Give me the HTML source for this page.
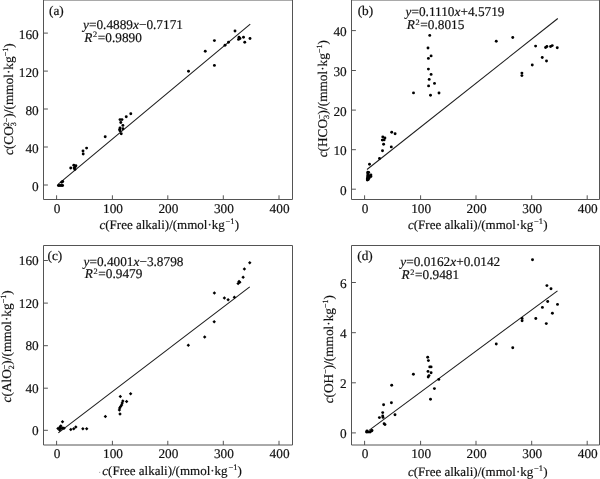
<!DOCTYPE html>
<html><head><meta charset="utf-8"><style>
html,body{margin:0;padding:0;background:#fff;}
svg{display:block;will-change:transform;text-rendering:geometricPrecision;}
text{font-family:"Liberation Serif", serif;font-size:13.3px;fill:#111;stroke:#111;stroke-width:0.18px;}
</style></head><body>
<svg width="600" height="479" viewBox="0 0 600 479">
<rect width="600" height="479" fill="#fff"/>
<path d="M43.5 0.0H292.5V199.5H43.5Z" fill="none" stroke="#545454" stroke-width="1"/>
<path d="M56.6 199.5V195.3" stroke="#545454" stroke-width="1"/>
<text x="57.2" y="212.7" text-anchor="middle">0</text>
<path d="M112.4 199.5V195.3" stroke="#545454" stroke-width="1"/>
<text x="113.0" y="212.7" text-anchor="middle">100</text>
<path d="M167.8 199.5V195.3" stroke="#545454" stroke-width="1"/>
<text x="168.4" y="212.7" text-anchor="middle">200</text>
<path d="M223.3 199.5V195.3" stroke="#545454" stroke-width="1"/>
<text x="223.9" y="212.7" text-anchor="middle">300</text>
<path d="M279.0 199.5V195.3" stroke="#545454" stroke-width="1"/>
<text x="279.6" y="212.7" text-anchor="middle">400</text>
<path d="M43.5 185.0H47.9" stroke="#545454" stroke-width="1"/>
<text x="38.7" y="190.6" text-anchor="end">0</text>
<path d="M43.5 147.0H47.9" stroke="#545454" stroke-width="1"/>
<text x="38.7" y="152.6" text-anchor="end">40</text>
<path d="M43.5 109.0H47.9" stroke="#545454" stroke-width="1"/>
<text x="38.7" y="114.6" text-anchor="end">80</text>
<path d="M43.5 71.1H47.9" stroke="#545454" stroke-width="1"/>
<text x="38.7" y="76.69999999999999" text-anchor="end">120</text>
<path d="M43.5 33.1H47.9" stroke="#545454" stroke-width="1"/>
<text x="38.7" y="38.7" text-anchor="end">160</text>
<path d="M58.25 184.1L250.25 24.1" stroke="#1c1c1c" stroke-width="1.05"/>
<g fill="#000"><circle cx="58.4" cy="185.5" r="1.45"/><circle cx="59.8" cy="185.5" r="1.45"/><circle cx="61.2" cy="185.5" r="1.45"/><circle cx="62.6" cy="185.5" r="1.45"/><circle cx="62.7" cy="181.5" r="1.45"/><circle cx="61.7" cy="182.2" r="1.45"/><circle cx="70.7" cy="168" r="1.45"/><circle cx="73.8" cy="165.2" r="1.45"/><circle cx="75.9" cy="165.7" r="1.45"/><circle cx="74.1" cy="168" r="1.45"/><circle cx="75.1" cy="167" r="1.45"/><circle cx="74.9" cy="169.4" r="1.45"/><circle cx="83.0" cy="151.0" r="1.45"/><circle cx="83.2" cy="154.0" r="1.45"/><circle cx="86.6" cy="148.1" r="1.45"/><circle cx="105.2" cy="136.7" r="1.45"/><circle cx="120" cy="119.6" r="1.45"/><circle cx="122" cy="119.6" r="1.45"/><circle cx="120.8" cy="122.5" r="1.45"/><circle cx="122.9" cy="125.4" r="1.45"/><circle cx="120" cy="127.9" r="1.45"/><circle cx="119.6" cy="129.6" r="1.45"/><circle cx="122.9" cy="128.75" r="1.45"/><circle cx="120" cy="130.8" r="1.45"/><circle cx="121.25" cy="133.75" r="1.45"/><circle cx="126.25" cy="116.7" r="1.45"/><circle cx="130.8" cy="113.75" r="1.45"/><circle cx="188.5" cy="71.2" r="1.45"/><circle cx="205.25" cy="51.25" r="1.45"/><circle cx="214.4" cy="40.6" r="1.45"/><circle cx="214.4" cy="65.4" r="1.45"/><circle cx="225" cy="45.25" r="1.45"/><circle cx="228.5" cy="42.25" r="1.45"/><circle cx="235" cy="31" r="1.45"/><circle cx="239" cy="37.25" r="1.45"/><circle cx="238.5" cy="39.4" r="1.45"/><circle cx="240" cy="38.5" r="1.45"/><circle cx="243.5" cy="37.25" r="1.45"/><circle cx="244.75" cy="42.25" r="1.45"/><circle cx="250" cy="38.5" r="1.45"/></g>
<text x="49.0" y="14.7" style="stroke-width:0.2px">(a)</text>
<text x="83.0" y="28.9"><tspan font-style="italic">y</tspan>=0.4889<tspan font-style="italic">x</tspan>−0.7171</text>
<text x="84.3" y="41.6"><tspan font-style="italic">R</tspan><tspan font-size="8.3" dx="0.6" dy="-4.3">2</tspan><tspan dx="0.6" dy="4.3">=0.9890</tspan></text>
<text x="99.5" y="228.8" style="font-size:13.0px"><tspan font-style="italic">c</tspan>(Free alkali)/(mmol·kg<tspan font-size="8.5" dx="0.8" dy="-5">−1</tspan><tspan dx="0.1" dy="5">)</tspan></text>
<text transform="translate(13.2 99.2) rotate(-90)" text-anchor="middle"><tspan font-style="italic">c</tspan>(CO<tspan font-size="8" dy="2.5">3</tspan><tspan font-size="8" dx="-4" dy="-7">2−</tspan><tspan dy="4.5">)/(mmol·kg</tspan><tspan font-size="8" dy="-5">−1</tspan><tspan dy="5">)</tspan></text>
<path d="M351.5 0.0H599.5V199.5H351.5Z" fill="none" stroke="#545454" stroke-width="1"/>
<path d="M364.6 199.5V195.3" stroke="#545454" stroke-width="1"/>
<text x="365.20000000000005" y="212.7" text-anchor="middle">0</text>
<path d="M420.6 199.5V195.3" stroke="#545454" stroke-width="1"/>
<text x="421.20000000000005" y="212.7" text-anchor="middle">100</text>
<path d="M476.0 199.5V195.3" stroke="#545454" stroke-width="1"/>
<text x="476.6" y="212.7" text-anchor="middle">200</text>
<path d="M531.7 199.5V195.3" stroke="#545454" stroke-width="1"/>
<text x="532.3000000000001" y="212.7" text-anchor="middle">300</text>
<path d="M587.2 199.5V195.3" stroke="#545454" stroke-width="1"/>
<text x="587.8000000000001" y="212.7" text-anchor="middle">400</text>
<path d="M351.5 189.2H355.9" stroke="#545454" stroke-width="1"/>
<text x="346.7" y="194.79999999999998" text-anchor="end">0</text>
<path d="M351.5 149.7H355.9" stroke="#545454" stroke-width="1"/>
<text x="346.7" y="155.29999999999998" text-anchor="end">10</text>
<path d="M351.5 110.1H355.9" stroke="#545454" stroke-width="1"/>
<text x="346.7" y="115.69999999999999" text-anchor="end">20</text>
<path d="M351.5 70.5H355.9" stroke="#545454" stroke-width="1"/>
<text x="346.7" y="76.1" text-anchor="end">30</text>
<path d="M351.5 30.6H355.9" stroke="#545454" stroke-width="1"/>
<text x="346.7" y="36.2" text-anchor="end">40</text>
<path d="M367.0 169.5L557.8 18.5" stroke="#1c1c1c" stroke-width="1.05"/>
<g fill="#000"><circle cx="367.8" cy="172.2" r="1.45"/><circle cx="367.8" cy="173.8" r="1.45"/><circle cx="367.8" cy="175.4" r="1.45"/><circle cx="367.6" cy="177" r="1.45"/><circle cx="367.4" cy="178.5" r="1.45"/><circle cx="367.3" cy="180" r="1.45"/><circle cx="370.9" cy="174.9" r="1.45"/><circle cx="370.9" cy="176.6" r="1.45"/><circle cx="369.4" cy="175.8" r="1.45"/><circle cx="368.7" cy="172.4" r="1.45"/><circle cx="368.7" cy="176.2" r="1.45"/><circle cx="368.3" cy="179.6" r="1.45"/><circle cx="369.2" cy="178" r="1.45"/><circle cx="369.5" cy="164.2" r="1.45"/><circle cx="379.5" cy="158.5" r="1.45"/><circle cx="382.5" cy="150.8" r="1.45"/><circle cx="383.6" cy="144.3" r="1.45"/><circle cx="391.3" cy="146.9" r="1.45"/><circle cx="382.8" cy="137" r="1.45"/><circle cx="384.9" cy="138" r="1.45"/><circle cx="382.3" cy="140.1" r="1.45"/><circle cx="384.1" cy="139.9" r="1.45"/><circle cx="391.7" cy="132.3" r="1.45"/><circle cx="395.1" cy="133.8" r="1.45"/><circle cx="413.5" cy="92.9" r="1.45"/><circle cx="430.5" cy="95.3" r="1.45"/><circle cx="439" cy="93" r="1.45"/><circle cx="429.75" cy="35.4" r="1.45"/><circle cx="428" cy="48" r="1.45"/><circle cx="431.1" cy="55.9" r="1.45"/><circle cx="428.4" cy="58.4" r="1.45"/><circle cx="428.4" cy="69.1" r="1.45"/><circle cx="431.1" cy="74.4" r="1.45"/><circle cx="429.2" cy="79.4" r="1.45"/><circle cx="434.5" cy="83.4" r="1.45"/><circle cx="428.6" cy="85.9" r="1.45"/><circle cx="496.25" cy="41.25" r="1.45"/><circle cx="512.75" cy="37.5" r="1.45"/><circle cx="535.6" cy="46.1" r="1.45"/><circle cx="545.6" cy="47.5" r="1.45"/><circle cx="546.9" cy="46.5" r="1.45"/><circle cx="550.6" cy="46.5" r="1.45"/><circle cx="552.25" cy="45.6" r="1.45"/><circle cx="557.25" cy="47.75" r="1.45"/><circle cx="542.25" cy="57.5" r="1.45"/><circle cx="546.5" cy="61" r="1.45"/><circle cx="532.25" cy="65" r="1.45"/><circle cx="521.9" cy="73.1" r="1.45"/><circle cx="521.9" cy="75.6" r="1.45"/></g>
<text x="357.7" y="14.7" style="stroke-width:0.2px">(b)</text>
<text x="405.5" y="16.0"><tspan font-style="italic">y</tspan>=0.1110<tspan font-style="italic">x</tspan>+4.5719</text>
<text x="406.8" y="28.8"><tspan font-style="italic">R</tspan><tspan font-size="8.3" dx="0.6" dy="-4.3">2</tspan><tspan dx="0.6" dy="4.3">=0.8015</tspan></text>
<text x="408.0" y="229.0" style="font-size:13.0px"><tspan font-style="italic">c</tspan>(Free alkali)/(mmol·kg<tspan font-size="8.5" dx="0.8" dy="-5">−1</tspan><tspan dx="0.1" dy="5">)</tspan></text>
<text transform="translate(326.5 98.75) rotate(-90)" text-anchor="middle"><tspan font-style="italic">c</tspan>(HCO<tspan font-size="8" dy="2.5">3</tspan><tspan font-size="8" dx="-4" dy="-7">−</tspan><tspan dy="4.5">)/(mmol·kg</tspan><tspan font-size="8" dy="-5">−1</tspan><tspan dy="5">)</tspan></text>
<path d="M43.5 245.5H292.5V445.0H43.5Z" fill="none" stroke="#545454" stroke-width="1"/>
<path d="M56.6 445.0V440.8" stroke="#545454" stroke-width="1"/>
<text x="57.2" y="458.2" text-anchor="middle">0</text>
<path d="M112.4 445.0V440.8" stroke="#545454" stroke-width="1"/>
<text x="113.0" y="458.2" text-anchor="middle">100</text>
<path d="M167.8 445.0V440.8" stroke="#545454" stroke-width="1"/>
<text x="168.4" y="458.2" text-anchor="middle">200</text>
<path d="M223.3 445.0V440.8" stroke="#545454" stroke-width="1"/>
<text x="223.9" y="458.2" text-anchor="middle">300</text>
<path d="M279.0 445.0V440.8" stroke="#545454" stroke-width="1"/>
<text x="279.6" y="458.2" text-anchor="middle">400</text>
<path d="M43.5 430.3H47.9" stroke="#545454" stroke-width="1"/>
<text x="38.7" y="434.7" text-anchor="end">0</text>
<path d="M43.5 388.2H47.9" stroke="#545454" stroke-width="1"/>
<text x="38.7" y="392.59999999999997" text-anchor="end">40</text>
<path d="M43.5 345.7H47.9" stroke="#545454" stroke-width="1"/>
<text x="38.7" y="350.09999999999997" text-anchor="end">80</text>
<path d="M43.5 303.1H47.9" stroke="#545454" stroke-width="1"/>
<text x="38.7" y="307.5" text-anchor="end">120</text>
<path d="M43.5 260.5H47.9" stroke="#545454" stroke-width="1"/>
<text x="38.7" y="264.9" text-anchor="end">160</text>
<path d="M58.3 432.8L249.75 286.8" stroke="#1c1c1c" stroke-width="1.05"/>
<g fill="#000"><path d="M58 426.85L59.75 428.6L58 430.35L56.25 428.6Z"/><path d="M59.8 425.45L61.55 427.2L59.8 428.95L58.05 427.2Z"/><path d="M60.8 424.15L62.55 425.9L60.8 427.65L59.05 425.9Z"/><path d="M61 426.65L62.75 428.4L61 430.15L59.25 428.4Z"/><path d="M62.8 426.15L64.55 427.9L62.8 429.65L61.05 427.9Z"/><path d="M64 426.55L65.75 428.3L64 430.05L62.25 428.3Z"/><path d="M59.6 428.25L61.35 430L59.6 431.75L57.85 430Z"/><path d="M62.5 420.05L64.25 421.8L62.5 423.55L60.75 421.8Z"/><path d="M70.8 427.85L72.55 429.6L70.8 431.35L69.05 429.6Z"/><path d="M73.75 427.0L75.5 428.75L73.75 430.5L72.0 428.75Z"/><path d="M75.8 425.25L77.55 427L75.8 428.75L74.05 427Z"/><path d="M82.9 427.0L84.65 428.75L82.9 430.5L81.15 428.75Z"/><path d="M86.7 427.0L88.45 428.75L86.7 430.5L84.95 428.75Z"/><path d="M105.4 414.75L107.15 416.5L105.4 418.25L103.65 416.5Z"/><path d="M120.3 394.85L122.05 396.6L120.3 398.35L118.55 396.6Z"/><path d="M130.6 392.0L132.35 393.75L130.6 395.5L128.85 393.75Z"/><path d="M126.6 399.85L128.35 401.6L126.6 403.35L124.85 401.6Z"/><path d="M122.8 399.15L124.55 400.9L122.8 402.65L121.05 400.9Z"/><path d="M122.2 401.35L123.95 403.1L122.2 404.85L120.45 403.1Z"/><path d="M121.6 403.25L123.35 405L121.6 406.75L119.85 405Z"/><path d="M120.6 404.85L122.35 406.6L120.6 408.35L118.85 406.6Z"/><path d="M119.7 406.35L121.45 408.1L119.7 409.85L117.95 408.1Z"/><path d="M119.4 408.25L121.15 410L119.4 411.75L117.65 410Z"/><path d="M120 412.25L121.75 414L120 415.75L118.25 414Z"/><path d="M188.3 343.55L190.05 345.3L188.3 347.05L186.55 345.3Z"/><path d="M204.7 335.25L206.45 337L204.7 338.75L202.95 337Z"/><path d="M214.2 319.95L215.95 321.7L214.2 323.45L212.45 321.7Z"/><path d="M214.4 291.15L216.15 292.9L214.4 294.65L212.65 292.9Z"/><path d="M224.4 296.35L226.15 298.1L224.4 299.85L222.65 298.1Z"/><path d="M228.1 298.0L229.85 299.75L228.1 301.5L226.35 299.75Z"/><path d="M234.4 295.5L236.15 297.25L234.4 299.0L232.65 297.25Z"/><path d="M239 279.75L240.75 281.5L239 283.25L237.25 281.5Z"/><path d="M239.75 280.5L241.5 282.25L239.75 284.0L238.0 282.25Z"/><path d="M238.1 281.75L239.85 283.5L238.1 285.25L236.35 283.5Z"/><path d="M243.1 275.45L244.85 277.2L243.1 278.95L241.35 277.2Z"/><path d="M244.4 267.25L246.15 269L244.4 270.75L242.65 269Z"/><path d="M249.75 260.95L251.5 262.7L249.75 264.45L248.0 262.7Z"/></g>
<text x="47.5" y="259.5" style="stroke-width:0.2px">(c)</text>
<text x="83.5" y="265.8"><tspan font-style="italic">y</tspan>=0.4001<tspan font-style="italic">x</tspan>−3.8798</text>
<text x="84.8" y="278.2"><tspan font-style="italic">R</tspan><tspan font-size="8.3" dx="0.6" dy="-4.3">2</tspan><tspan dx="0.6" dy="4.3">=0.9479</tspan></text>
<circle cx="99.7" cy="472.3" r="0.6" fill="#999"/>
<text x="102.3" y="475.0" style="font-size:13.0px"><tspan font-style="italic">c</tspan>(Free alkali)/(mmol·kg<tspan font-size="8.5" dx="0.8" dy="-5">−1</tspan><tspan dx="0.1" dy="5">)</tspan></text>
<text transform="translate(11.2 346.4) rotate(-90)" text-anchor="middle"><tspan font-style="italic">c</tspan>(AlO<tspan font-size="8" dy="2.5">2</tspan><tspan font-size="8" dx="-4" dy="-7">−</tspan><tspan dy="4.5">)/(mmol·kg</tspan><tspan font-size="8" dy="-5">−1</tspan><tspan dy="5">)</tspan></text>
<path d="M351.5 245.5H599.5V445.0H351.5Z" fill="none" stroke="#545454" stroke-width="1"/>
<path d="M364.6 445.0V440.8" stroke="#545454" stroke-width="1"/>
<text x="365.20000000000005" y="458.2" text-anchor="middle">0</text>
<path d="M420.6 445.0V440.8" stroke="#545454" stroke-width="1"/>
<text x="421.20000000000005" y="458.2" text-anchor="middle">100</text>
<path d="M476.0 445.0V440.8" stroke="#545454" stroke-width="1"/>
<text x="476.6" y="458.2" text-anchor="middle">200</text>
<path d="M531.7 445.0V440.8" stroke="#545454" stroke-width="1"/>
<text x="532.3000000000001" y="458.2" text-anchor="middle">300</text>
<path d="M587.2 445.0V440.8" stroke="#545454" stroke-width="1"/>
<text x="587.8000000000001" y="458.2" text-anchor="middle">400</text>
<path d="M351.5 432.9H355.9" stroke="#545454" stroke-width="1"/>
<text x="346.7" y="437.9" text-anchor="end">0</text>
<path d="M351.5 382.8H355.9" stroke="#545454" stroke-width="1"/>
<text x="346.7" y="387.8" text-anchor="end">2</text>
<path d="M351.5 332.7H355.9" stroke="#545454" stroke-width="1"/>
<text x="346.7" y="337.7" text-anchor="end">4</text>
<path d="M351.5 282.5H355.9" stroke="#545454" stroke-width="1"/>
<text x="346.7" y="287.5" text-anchor="end">6</text>
<path d="M369.0 430.3L557.5 290.8" stroke="#1c1c1c" stroke-width="1.05"/>
<g fill="#000"><circle cx="366.5" cy="432" r="1.45"/><circle cx="368" cy="432" r="1.45"/><circle cx="370" cy="432" r="1.45"/><circle cx="371.5" cy="431" r="1.45"/><circle cx="372" cy="430.5" r="1.45"/><circle cx="367" cy="431" r="1.45"/><circle cx="379.4" cy="417.6" r="1.45"/><circle cx="382.7" cy="412.6" r="1.45"/><circle cx="382.7" cy="416" r="1.45"/><circle cx="383" cy="417.4" r="1.45"/><circle cx="383.6" cy="404.8" r="1.45"/><circle cx="391.7" cy="385.2" r="1.45"/><circle cx="391.4" cy="402.75" r="1.45"/><circle cx="395" cy="414.7" r="1.45"/><circle cx="384.1" cy="423.8" r="1.45"/><circle cx="385" cy="424.6" r="1.45"/><circle cx="413.4" cy="374.2" r="1.45"/><circle cx="427.7" cy="357.3" r="1.45"/><circle cx="428.4" cy="360.6" r="1.45"/><circle cx="429.75" cy="366.9" r="1.45"/><circle cx="431.1" cy="366.9" r="1.45"/><circle cx="428" cy="371.4" r="1.45"/><circle cx="431.1" cy="372.75" r="1.45"/><circle cx="429" cy="375.6" r="1.45"/><circle cx="428.2" cy="377" r="1.45"/><circle cx="438.8" cy="379.4" r="1.45"/><circle cx="434.4" cy="388.6" r="1.45"/><circle cx="430.5" cy="399.3" r="1.45"/><circle cx="496.25" cy="344" r="1.45"/><circle cx="512.75" cy="347.75" r="1.45"/><circle cx="522.1" cy="318.4" r="1.45"/><circle cx="522.1" cy="320.7" r="1.45"/><circle cx="535.8" cy="318.5" r="1.45"/><circle cx="542.4" cy="307.4" r="1.45"/><circle cx="547.7" cy="301.5" r="1.45"/><circle cx="557.5" cy="304.4" r="1.45"/><circle cx="552.4" cy="313.2" r="1.45"/><circle cx="546.3" cy="323.6" r="1.45"/><circle cx="546.9" cy="285.6" r="1.45"/><circle cx="551" cy="288.75" r="1.45"/><circle cx="532.5" cy="259.75" r="1.45"/></g>
<text x="357.3" y="259.6" style="stroke-width:0.2px">(d)</text>
<text x="400.3" y="266.4"><tspan font-style="italic">y</tspan>=0.0162<tspan font-style="italic">x</tspan>+0.0142</text>
<text x="401.6" y="278.9"><tspan font-style="italic">R</tspan><tspan font-size="8.3" dx="0.6" dy="-4.3">2</tspan><tspan dx="0.6" dy="4.3">=0.9481</tspan></text>
<text x="408.0" y="475.5" style="font-size:13.0px"><tspan font-style="italic">c</tspan>(Free alkali)/(mmol·kg<tspan font-size="8.5" dx="0.8" dy="-5">−1</tspan><tspan dx="0.1" dy="5">)</tspan></text>
<text transform="translate(333.0 349.2) rotate(-90)" text-anchor="middle"><tspan font-style="italic">c</tspan>(OH<tspan font-size="8" dy="-5">−</tspan><tspan dy="5">)/(mmol·kg</tspan><tspan font-size="8" dy="-5">−1</tspan><tspan dy="5">)</tspan></text>
</svg>
</body></html>
